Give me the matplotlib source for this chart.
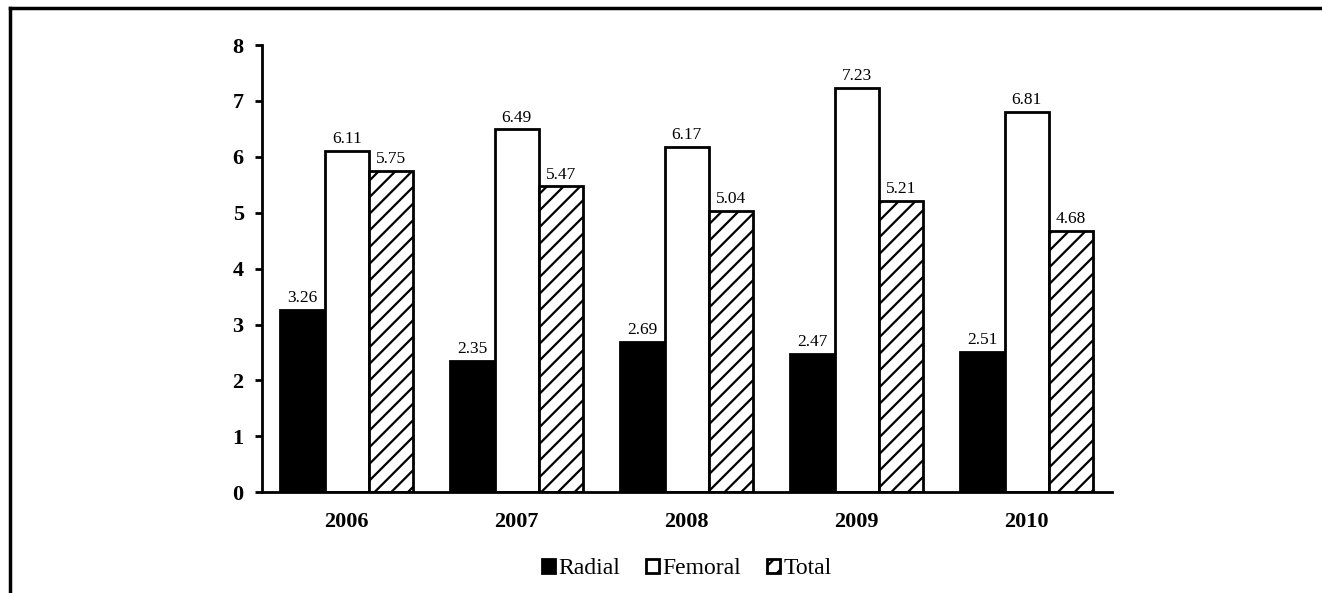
import numpy as np
import matplotlib.pyplot as plt
from matplotlib.lines import Line2D

plt.rcParams['font.family'] = ['Liberation Serif', 'DejaVu Serif']
plt.rcParams['hatch.linewidth'] = 1.6

years = ['2006', '2007', '2008', '2009', '2010']
radial = [3.26, 2.35, 2.69, 2.47, 2.51]
femoral = [6.11, 6.49, 6.17, 7.23, 6.81]
total = [5.75, 5.47, 5.04, 5.21, 4.68]
series_names = ['Radial', 'Femoral', 'Total']

fig = plt.figure(figsize=(13.22, 5.93), dpi=100)
ax = fig.add_axes([0.198, 0.170, 0.643, 0.754])

x = np.arange(len(years))
w = 0.26
styles = [dict(facecolor='black', hatch=None),
          dict(facecolor='white', hatch=None),
          dict(facecolor='white', hatch='//')]
for i, (vals, name, st) in enumerate(zip([radial, femoral, total], series_names, styles)):
    bars = ax.bar(x + (i - 1) * w, vals, w, label=name, edgecolor='black',
                  linewidth=2, **st)
    for b, v in zip(bars, vals):
        ax.text(b.get_x() + b.get_width() / 2, v + 0.07, f'{v:.2f}',
                ha='center', va='bottom', fontsize=12.5)

ax.set_xlim(-0.5, 4.5)
ax.set_ylim(0, 8)
ax.set_xticks(x)
ax.set_xticklabels(years, fontsize=16, fontweight='bold')
ax.set_yticks(range(0, 9))
ax.set_yticklabels([str(v) for v in range(0, 9)], fontsize=16, fontweight='bold')
ax.tick_params(axis='x', length=0, pad=14)
ax.tick_params(axis='y', length=5, width=2, pad=8)
for s in ['top', 'right']:
    ax.spines[s].set_visible(False)
for s in ['left', 'bottom']:
    ax.spines[s].set_linewidth(2)

ax.legend(loc='upper center', bbox_to_anchor=(0.5, -0.1), ncol=3, frameon=False,
          fontsize=17, handlelength=0.55, handleheight=0.55, handletextpad=0.15,
          columnspacing=1.1)

# figure frame: left and top edges only
fig.add_artist(Line2D([0.0075, 0.0075], [0, 0.987], color='black', lw=2.5))
fig.add_artist(Line2D([0.0075, 1.0], [0.987, 0.987], color='black', lw=2.5))

fig.savefig('out.png', dpi=100)
